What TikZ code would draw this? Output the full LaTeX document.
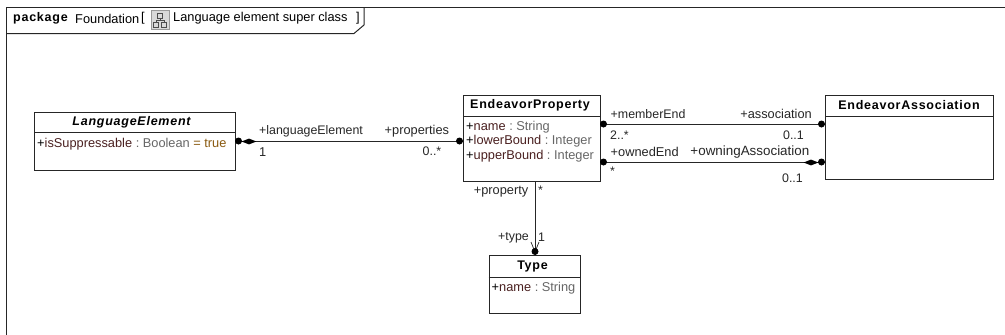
\documentclass[tikz,border=0pt]{standalone}
\usepackage{fontspec}
\setmainfont{Liberation Sans}
\newfontfamily\headfont[LetterSpace=6]{Liberation Sans}
\usetikzlibrary{positioning,shapes.geometric}
\definecolor{attrname}{HTML}{4A2020}
\definecolor{attrtype}{HTML}{666666}
\definecolor{attrval}{HTML}{8A5A10}
\tikzset{
  classbox/.style={draw=black!85,line width=1pt,fill=white,anchor=north west,inner sep=0pt},
  classhead/.style={font=\fontsize{12.5}{14}\headfont\bfseries,anchor=center,inner sep=0pt},
  attrline/.style={font=\fontsize{12.8}{14}\selectfont,anchor=west,inner sep=0pt},
  rolelabel/.style={font=\fontsize{12.8}{14}\selectfont,inner sep=0pt,text=black!85},
  rolenarrow/.style={rolelabel,font=\fontsize{12.4}{14}\selectfont},
  assocline/.style={draw=black!85,line width=1pt},
  enddot/.style={circle,fill=black,inner sep=0pt,minimum size=7pt},
  enddiamond/.style={diamond,fill=black,inner sep=0pt,minimum width=15pt,minimum height=6pt},
}
\newcommand{\attr}[3]{+\textcolor{attrname}{#1}\textcolor{attrtype}{\ :\ #2}#3}
\begin{document}
\begin{tikzpicture}[x=1pt,y=-1pt]
\useasboundingbox (0,0) rectangle (1005,335);
% frame
\draw[line width=1pt,draw=black!85] (6.5,335) -- (6.5,7.5) -- (1005,7.5);
\draw[line width=1pt,draw=black!85] (6.5,33.5) -- (354,33.5) -- (364,25) -- (364,7.5);
\node[classhead,anchor=west] (framekind) at (13,18.5) {package};
\node[attrline] (framename) at (75,18.5) {Foundation};
\node[attrline] (frameopen) at (141,18.5) {[};
\node[attrline] (frametitle) at (173,18.5) {Language element super class};
\node[attrline] (frameclose) at (356,18.5) {]};
% diagram icon
\node[draw=black!40,fill=black!15,minimum width=18pt,minimum height=19pt,inner sep=0pt] (frameicon) at (160,20) {};
\draw[black!70,line width=.6pt] (157.5,13.5) rectangle (162.5,18) (153.5,22.5) rectangle (158.5,27) (161.5,22.5) rectangle (166.5,27)
  (160,18) -- (160,20.5) (156,22.5) -- (156,20.5) -- (164,20.5) -- (164,22.5);
% classes
\node[classbox,minimum width=201pt,minimum height=58pt] (element) at (34,111.5) {};
\node[classbox,minimum width=137pt,minimum height=86.5pt] (property) at (463,94.5) {};
\node[classbox,minimum width=168pt,minimum height=84.5pt] (association) at (825,94.5) {};
\node[classbox,minimum width=91.5pt,minimum height=58pt] (type) at (488.5,255) {};
\draw[assocline] (34,132.5) -- (235,132.5);
\draw[assocline] (463,116) -- (600,116);
\draw[assocline] (825,116) -- (993,116);
\draw[assocline] (488.5,277) -- (580,277);
\node[classhead,font=\fontsize{12.5}{14}\headfont\bfseries\itshape] (elementhead) at (131.5,122) {LanguageElement};
\node[classhead] (propertyhead) at (530,105.5) {EndeavorProperty};
\node[classhead] (associationhead) at (909,105.5) {EndeavorAssociation};
\node[classhead] (typehead) at (532.5,266) {Type};
\node[attrline] (isSuppressable) at (37,144) {\attr{isSuppressable}{Boolean}{\textcolor{attrval}{\ =\ true}}};
\node[attrline] (propname) at (466,127.5) {\attr{name}{String}{}};
\node[attrline] (lowerBound) at (466,141.5) {\attr{lowerBound}{Integer}{}};
\node[attrline] (upperBound) at (466,156) {\attr{upperBound}{Integer}{}};
\node[attrline] (typename) at (491.5,288) {\attr{name}{String}{}};
% connectors
\coordinate (elementend) at (235,141);
\coordinate (propertyleft) at (463,141);
\coordinate (memberstart) at (600,124);
\coordinate (memberstop) at (825,124);
\coordinate (ownedstart) at (600,162);
\coordinate (ownedstop) at (825,162);
\coordinate (propertybottom) at (535,181);
\coordinate (typetop) at (535,255);
\draw[assocline] (elementend) -- (propertyleft);
\draw[assocline] (memberstart) -- (memberstop);
\draw[assocline] (ownedstart) -- (ownedstop);
\draw[assocline] (propertybottom) -- (typetop);
\draw[assocline,line width=.7pt] (531,242) -- (535,252) -- (539,242);
\node[enddot] (dota) at (238.5,141) {};
\node[enddiamond] (diamonda) at (249,141.5) {};
\node[enddot] (dotb) at (459.5,141) {};
\node[enddot] (dotc) at (603.5,124) {};
\node[enddot] (dotd) at (821.5,124) {};
\node[enddot] (dote) at (603.5,162) {};
\node[enddot] (dotf) at (821.5,162) {};
\node[enddiamond] (diamondb) at (811,162.5) {};
\node[enddot] (dotg) at (535,251.5) {};
% role labels
\node[rolenarrow,anchor=west] (rolelang) at (259,131) {+languageElement};
\node[rolelabel,anchor=west] (roleprops) at (384.5,131) {+properties};
\node[rolelabel,anchor=west] (multone) at (259,152) {1};
\node[rolenarrow,anchor=west] (multprops) at (422.5,151.5) {0..*};
\node[rolenarrow,anchor=west] (rolemember) at (610.5,114) {+memberEnd};
\node[rolelabel,anchor=east] (roleassoc) at (812,114) {+association};
\node[rolenarrow,anchor=west] (multmember) at (610,135.5) {2..*};
\node[rolenarrow,anchor=east] (multassoc) at (804,135.5) {0..1};
\node[rolelabel,anchor=west] (roleowned) at (610.5,151.5) {+ownedEnd};
\node[rolelabel,anchor=east,font=\fontsize{13.4}{14}\selectfont] (roleowning) at (809.5,152) {+owningAssociation};
\node[rolenarrow,anchor=west] (multowned) at (610,171.5) {*};
\node[rolenarrow,anchor=east] (multowning) at (803,178) {0..1};
\node[rolelabel,anchor=east] (roleproperty) at (528.5,192) {+property};
\node[rolenarrow,anchor=west] (multproperty) at (538,190) {*};
\node[rolenarrow,anchor=east] (roletype) at (529,237.5) {+type};
\node[rolenarrow,anchor=west] (multtype) at (538,237.5) {1};
\end{tikzpicture}
\end{document}
